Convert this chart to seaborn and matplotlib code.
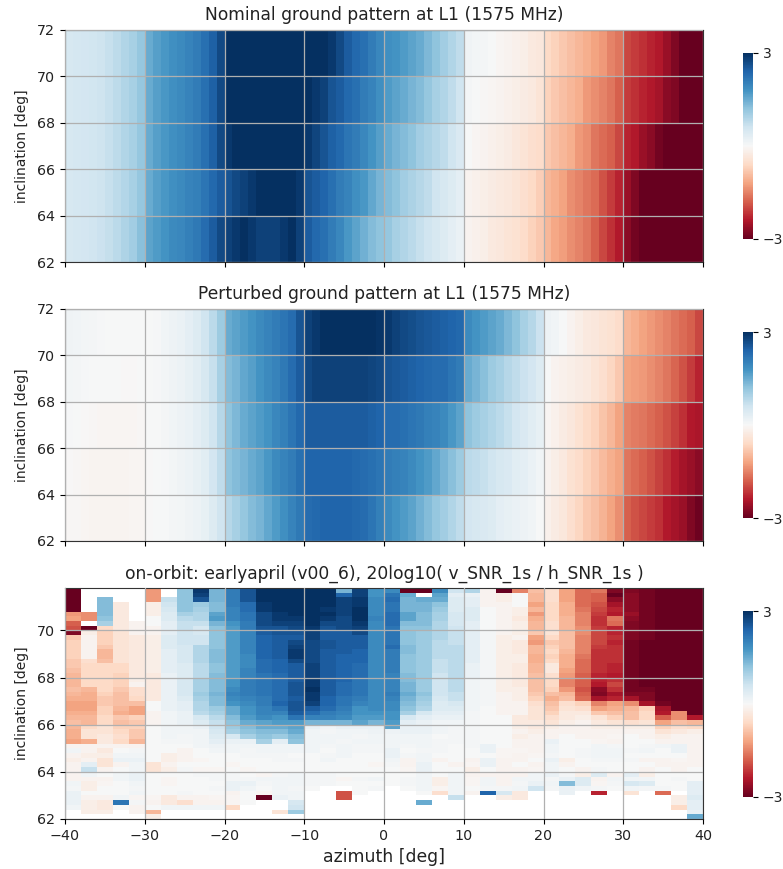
import numpy as np
import pandas as pd
import matplotlib
matplotlib.use("Agg")
import matplotlib.pyplot as plt
import seaborn as sns

n = np.nan
azimuth_fine = list(range(-40, 40))
inclination_coarse = [62, 64, 66, 68, 70]
azimuth_bins = list(range(-40, 40, 2))
inclination_bins = [round(62 + 0.2 * i, 1) for i in range(49)]
azimuth_ticks = [-40, -30, -20, -10, 0, 10, 20, 30, 40]
inclination_ticks = [62, 64, 66, 68, 70, 72]
inclination_ticks_orbit = [62, 64, 66, 68, 70]

nominal_62 = [.5,.52,.55,.6,.65,.72,.8,.92,1.05,1.25, 1.6,1.7,1.8,1.9,1.95,2.05,2.15,2.3,2.5,2.7,
 2.8,2.9,3,2.9,2.8,2.8,2.8,2.9,3,2.8, 2.5,2.35,2.25,2.1,1.95,1.75,1.6,1.45,1.3,1.2,
 1.15,1,.9,.8,.7,.6,.5,.4,.3,.2, -.1,-.15,-.2,-.3,-.35,-.4,-.45,-.55,-.7,-.8,
 -1,-1.15,-1.25,-1.4,-1.5,-1.6,-1.8,-2,-2.2,-2.4, -2.7,-2.9,-3,-3,-3,-3,-3,-3,-3,-3]
nominal_64 = [.5,.52,.55,.58,.62,.7,.78,.88,1,1.15, 1.5,1.65,1.75,1.85,1.9,2,2.05,2.2,2.35,2.5,
 2.6,2.7,2.8,2.9,3,3,3,3,3,2.9, 2.6,2.5,2.4,2.25,2.1,2,1.85,1.75,1.55,1.4,
 1.3,1.2,1.05,.95,.85,.75,.6,.5,.4,.3, -.1,-.15,-.2,-.25,-.3,-.35,-.4,-.5,-.6,-.75,
 -1,-1.1,-1.2,-1.4,-1.5,-1.6,-1.7,-1.9,-2.1,-2.3, -2.6,-2.8,-3,-3,-3,-3,-3,-3,-3,-3]
nominal_66 = [.5,.52,.55,.58,.62,.7,.78,.9,1,1.15, 1.5,1.65,1.75,1.85,1.9,2,2.1,2.25,2.45,2.7,
 2.9,3,3,3,3,3,3,3,3,3, 2.9,2.75,2.6,2.45,2.35,2.2,2.1,1.95,1.8,1.65,
 1.5,1.4,1.3,1.2,1.05,.95,.85,.75,.6,.45, 0,-.05,-.1,-.15,-.2,-.25,-.35,-.4,-.5,-.55,
 -.8,-.9,-1,-1.1,-1.3,-1.4,-1.6,-1.7,-1.8,-2, -2.3,-2.4,-2.6,-2.7,-2.9,-3,-3,-3,-3,-3]
nominal_68 = [.5,.52,.55,.58,.62,.7,.78,.9,1,1.15, 1.5,1.65,1.75,1.85,1.9,2,2.1,2.25,2.45,2.7,
 3,3,3,3,3,3,3,3,3,3, 3,2.9,2.8,2.6,2.5,2.35,2.25,2.1,2,1.85,
 1.7,1.6,1.5,1.4,1.3,1.15,1,.9,.75,.6, .05,0,-.03,-.05,-.1,-.15,-.2,-.25,-.3,-.4,
 -.7,-.8,-.9,-1,-1.1,-1.3,-1.4,-1.5,-1.6,-1.8, -2.1,-2.2,-2.3,-2.4,-2.5,-2.7,-2.8,-3,-3,-3]
nominal_70 = [.5,.52,.55,.58,.62,.7,.78,.9,1,1.15, 1.5,1.65,1.75,1.85,1.9,2,2.1,2.25,2.45,2.7,
 3,3,3,3,3,3,3,3,3,3, 3,3,3,2.9,2.7,2.5,2.35,2.25,2.1,1.95,
 1.85,1.8,1.7,1.6,1.5,1.35,1.2,1.05,.9,.75, .12,.08,.05,0,-.05,-.1,-.15,-.2,-.3,-.35,
 -.6,-.7,-.8,-.9,-1,-1.1,-1.2,-1.3,-1.5,-1.6, -2,-2.1,-2.2,-2.3,-2.4,-2.6,-2.8,-3,-3,-3]

perturbed_62 = [-.03,-.04,-.06,-.08,-.09,-.09,-.09,-.08,-.07,-.05, -.02,0,.02,.05,.08,.12,.18,.25,.4,.6,
 .85,1,1.15,1.3,1.4,1.55,1.7,1.85,2,2.15, 2.3,2.35,2.4,2.4,2.4,2.4,2.35,2.3,2.2,2.05,
 1.9,1.8,1.7,1.6,1.45,1.3,1.15,1.05,.9,.75, .55,.5,.45,.4,.3,.25,.2,.15,.1,0,
 -.15,-.25,-.35,-.5,-.65,-.8,-.9,-1.05,-1.2,-1.4, -1.8,-1.9,-2,-2.1,-2.2,-2.4,-2.5,-2.6,-2.8,-2.95]
perturbed_64 = [-.02,-.04,-.06,-.08,-.09,-.09,-.09,-.08,-.07,-.05, -.02,0,.03,.08,.12,.18,.25,.35,.55,.75,
 1.2,1.3,1.4,1.5,1.6,1.75,1.9,2,2.1,2.25, 2.4,2.4,2.4,2.4,2.4,2.4,2.35,2.3,2.25,2.2,
 2.1,2.05,2,1.9,1.8,1.7,1.55,1.4,1.25,1.1, .8,.75,.7,.6,.5,.45,.35,.3,.2,.1,
 -.1,-.2,-.3,-.45,-.55,-.7,-.8,-.95,-1.1,-1.2, -1.6,-1.7,-1.8,-1.9,-2.05,-2.2,-2.35,-2.5,-2.6,-2.7]
perturbed_66 = [.03,.01,-.02,-.04,-.06,-.06,-.06,-.05,-.05,-.03, 0,.02,.05,.1,.15,.2,.3,.4,.6,.85,
 1.2,1.35,1.5,1.6,1.7,1.8,1.95,2.05,2.2,2.35, 2.5,2.5,2.5,2.5,2.5,2.5,2.5,2.5,2.45,2.4,
 2.3,2.3,2.25,2.2,2.15,2.05,2,1.9,1.75,1.6, 1.2,1.1,1,.9,.8,.7,.55,.45,.35,.25,
 -.05,-.15,-.25,-.35,-.45,-.6,-.7,-.85,-1,-1.2, -1.5,-1.55,-1.6,-1.7,-1.8,-1.9,-2.05,-2.2,-2.4,-2.45]
perturbed_68 = [.08,.06,.04,.02,0,0,0,-.01,-.01,0, .02,.04,.08,.12,.18,.25,.35,.5,.7,1,
 1.3,1.4,1.55,1.65,1.8,1.9,2,2.15,2.3,2.5, 2.7,2.8,2.8,2.8,2.8,2.8,2.8,2.8,2.75,2.7,
 2.6,2.55,2.5,2.45,2.4,2.35,2.3,2.3,2.2,2.1, 1.5,1.4,1.25,1.1,1,.85,.75,.65,.55,.4,
 0,-.1,-.15,-.2,-.25,-.3,-.4,-.5,-.65,-.8, -1.2,-1.25,-1.3,-1.4,-1.5,-1.6,-1.75,-1.9,-2.1,-2.3]
perturbed_70 = [.12,.1,.08,.05,.03,.02,.02,.01,.01,.01, .02,.04,.1,.15,.2,.3,.4,.6,.8,1.1,
 1.5,1.6,1.7,1.8,1.9,2,2.1,2.2,2.3,2.6, 2.8,2.9,3,3,3,3,3,3,3,2.95,
 2.9,2.8,2.7,2.65,2.6,2.55,2.5,2.45,2.4,2.35, 1.9,1.8,1.7,1.6,1.5,1.35,1.2,1,.85,.65,
 .15,.1,0,-.1,-.2,-.3,-.35,-.4,-.45,-.55, -1,-1.1,-1.2,-1.3,-1.4,-1.5,-1.6,-1.7,-1.8,-2]

# on-orbit cells, 62.0 upward in 0.2 deg rows, 40 azimuth bins
orbit_rows = [
[n,n,n,n,n,-.2,n,n,n,n, n,n,n,n,n,n,n,n,n,n, n,n,n,n,n,n,n,n,n,n, n,n,n,n,n,n,n,n,n,1.5],
[n,-.2,-.2,n,-.1,-1,n,n,n,n, n,n,n,-.4,1.1,n,n,n,n,n, n,n,n,n,n,n,n,n,n,n, n,n,n,n,n,n,n,n,n,.2],
[.1,-.2,-.3,0,-.1,0,.1,.1,.1,.1, -.6,n,n,n,.6,n,n,n,n,n, n,n,n,n,n,n,n,n,n,n, n,n,n,n,n,n,n,n,-.6,.3],
[.2,-.2,-.3,2.2,.05,-.1,-.3,-.5,-.1,-.1, -.05,0,n,n,.5,n,n,n,n,n, n,n,1.5,n,n,n,n,n,n,n, n,n,n,n,n,n,n,n,-.2,.3],
[.2,-.1,-.1,.1,-.05,-.05,-.3,-.1,-.1,-.05, -.05,0,-3,.2,.1,n,n,-1.9,n,n, n,n,n,n,.7,n,n,-.2,-.3,n, n,n,n,n,n,n,n,n,-.2,.4],
[.2,0,0,0,.1,0,0,.05,0,0, -.1,0,-.05,.1,.1,n,n,-1.9,0,n, n,n,0,-.5,.1,-.1,2.4,.5,-.3,n, n,.2,n,-2.3,n,-.4,n,-1.7,n,.3],
[.05,-.2,0,0,.05,0,0,0,0,.05, .2,.1,0,.1,.05,0,n,n,0,.05, n,0,.1,-.05,.1,0,.05,.05,.1,.6, .05,.2,.1,.05,0,.1,.05,.05,0,.3],
[.1,-.2,-.05,0,.1,0,-.05,0,0,0, .2,.2,.05,.1,.1,.05,.05,0,0,0, 0,.05,.1,-.2,.1,-.05,.1,-.1,.05,.2, .1,1.3,.4,-.05,.05,.5,.4,0,0,.3],
[-.1,-.1,-.1,.1,.2,0,-.05,0,0,.05, .05,.05,.1,.1,.1,.05,.05,-.05,.05,.1, 0,.05,.1,-.2,.1,-.05,.1,-.1,.1,.1, .05,.2,.4,-.1,.1,.1,.1,0,.05,0],
[-.1,.1,0,.1,.2,0,0,0,.05,.05, .05,0,-.05,.05,.1,.05,.05,0,0,0, 0,0,.1,0,.1,-.1,-.1,-.1,-.1,.1, .2,.05,-.2,.4,-.1,.3,-.2,0,0,0],
[-.1,.7,-.1,0,.1,-.4,-.2,.05,-.05,-.05, 0,-.05,0,0,0,0,0,0,0,0, 0,-.05,.2,0,0,-.2,0,-.1,-.1,-.05, .1,0,-.1,.05,0,0,-.1,0,-.1,0],
[-.1,.3,-.4,-.1,.1,-.4,-.1,0,0,0, -.05,0,0,0,0,0,0,0,0,-.05, .05,-.1,.2,0,-.1,-.05,.2,-.1,0,-.1, .1,-.1,0,0,0,0,0,-.1,-.1,-.1],
[-.2,-.1,-.4,.2,.2,0,-.2,-.1,-.05,0, 0,0,0,.05,.05,0,.1,0,0,0, .1,-.1,.1,-.1,0,-.1,.2,-.1,-.1,0, .2,-.2,0,.05,.05,.05,-.1,-.1,-.05,-.1],
[-.1,-.2,-.2,.1,.1,0,-.2,-.1,0,0, 0,.05,.05,.05,0,0,.05,.1,0,0, .2,.05,.1,0,0,0,0,-.05,-.1,-.05, .05,0,.05,.1,.1,0,0,0,0,-.1],
[.1,-.1,-.3,0,.05,0,0,-.1,0,.1, .1,.05,.1,.1,.1,.1,0,.1,.05,.05, .2,0,.05,.05,0,0,.2,-.05,-.05,-.1, .1,0,.05,.1,.1,.05,.1,0,.2,-.1],
[-.1,-.1,-.1,-.1,-.1,0,0,0,.1,.15, .1,.1,.1,.1,.1,.1,.05,.1,.05,.05, .1,.05,.1,.05,0,.05,.2,0,-.1,-.1, .1,0,0,.1,.05,0,.05,.1,.2,-.1],
[-1.2,-1.1,-.3,-.6,-1,0,.05,.05,.1,.3, .2,.2,1,.3,1.2,.1,.1,.05,.1,.1, .1,.1,.1,.05,.05,.05,0,0,-.1,-.1, .2,0,0,-.05,-.1,0,0,-.1,-.1,-.1],
[-1.1,-.4,-.3,-.5,-.8,0,.1,.05,.1,.4, .5,1,1.2,1.1,1.3,.1,.1,.1,.05,.1, .1,.1,.1,0,.05,.05,0,0,-.2,-.1, -.1,0,-.1,-.1,-.05,0,-.1,-.2,-.1,-.1],
[-1.1,-.4,-.4,-.6,-.8,0,.1,.1,.1,.5, 1,1.2,1.3,1.3,1.5,.1,.05,.1,.1,.15, .15,.2,.2,.1,.05,.05,0,0,-.1,-.2, -.1,-.1,-.1,-.1,-.1,-.1,-.1,-.4,-.3,-.2],
[-1,-.6,-.4,-.7,-.7,0,.1,.1,.2,.6, 1.1,1.3,1.5,1.5,1.6,.2,.1,.2,.2,.2, 1.6,.2,.2,.1,.05,.05,0,0,-.2,-.3, -.2,-.1,-.1,-.2,-.2,-.2,-.2,-.7,-.5,-.6],
[-.9,-1,-.6,-.9,-.8,-.1,.1,.2,.4,.7, 1.2,1.5,1.6,1.7,1.7,1.4,1.4,1.4,1.6,1.4, 1.7,.3,.2,.1,.1,.05,0,0,-.3,-.3, -.4,-.2,-.1,-.3,-.4,-.5,-.4,-1.2,-.9,-1],
[-1,-1,-.6,-.8,-.7,-.1,.1,.2,.5,.8, 1.3,1.7,1.9,1.8,2.2,2,2,1.9,1.7,1.7, 1.8,.5,.3,.2,.2,.05,0,0,-.3,-.4, -.5,-.3,-.2,-.4,-.7,-.9,-.6,-1.8,-1.4,-2.4],
[-1.1,-1.1,-.7,-1.1,-1.2,-.1,.1,.2,.8,1, 1.5,1.8,2,2,2.5,2.3,2.1,2,1.8,1.8, 1.8,1,.5,.3,.3,.05,0,-.1,-.1,-.4, -.7,-.3,-.3,-.8,-.9,-.9,-.6,-2.4,-1.4,-3],
[-1.2,-1.2,-.7,-1,-1.2,0,.2,.3,.9,1.1, 1.5,1.8,2,2.2,2.6,2.5,2.3,2.1,1.8,1.9, 1.9,1.2,.9,.4,.4,.1,0,-.1,-.1,-.4, -.8,-.4,-.5,-1.2,-1.1,-1,-.7,-2.5,-3,-3],
[-1.2,-1.2,-.8,-.9,-.9,0,.2,.3,.9,1.3, 1.8,1.9,2.1,2.4,2.6,2.8,2.4,2.2,2,1.9, 1.9,1.3,1,.4,.5,.1,.05,-.1,-.1,-.5, -.9,-.5,-.7,-1.5,-1.2,-1.4,-2.5,-2.9,-3,-3],
[-1.1,-1.1,-.8,-.9,-.6,-.3,.2,.4,1,1.3, 1.9,2,2.1,2.3,2.5,2.9,2.4,2.2,2.1,1.9, 2,1.4,1.1,.5,.7,.1,.05,-.1,-.2,-.7, -1.1,-.9,-1.7,-2.5,-2.3,-2.5,-2.8,-3,-3,-3],
[-1,-1.1,-.7,-.9,-.5,-.3,.2,.5,1.1,1.4, 2,2.1,2.2,2.3,2.6,2.9,2.5,2.3,2.2,1.9, 2.1,1.5,1.2,.6,.7,.1,.05,-.1,-.2,-.8, -.9,-1,-1.8,-2.8,-2.5,-2.8,-2.8,-3,-3,-3],
[-.9,-1,-.6,-.8,-.5,-.3,.2,.5,1,1.3, 1.9,2.1,2.2,2.3,2.6,3,2.5,2.3,2.2,1.9, 2,1.4,1.1,.6,.8,.1,.05,-.2,-.2,-.9, -.7,-1.3,-1.9,-2.7,-2.2,-2.9,-2.9,-3,-3,-3],
[-1,-.6,-.6,-.7,-.1,-.3,.2,.5,1,1.3, 1.8,2.1,2.2,2.3,2.6,2.9,2.5,2.3,2.2,1.9, 2,1.4,1.1,.6,.8,.1,.05,-.2,-.3,-.9, -.6,-1.5,-1.8,-2.4,-2,-2.9,-3,-3,-3,-3],
[-1,-.6,-.6,-.7,-.2,-.3,.2,.5,1,1.3, 1.8,2.1,2.2,2.3,2.5,2.9,2.5,2.4,2.2,1.9, 2,1.3,1.1,.6,.8,.1,.05,-.2,-.3,-.9, -.6,-1.5,-1.8,-2.3,-2.2,-2.9,-3,-3,-3,-3],
[-1,-.6,-.6,-.7,-.3,-.3,.2,.4,.8,1.3, 1.7,2,2.2,2.3,2.5,2.8,2.5,2.4,2.3,1.9, 2,1.3,1.1,.6,.8,.2,.05,-.2,-.3,-.9, -.5,-1.3,-1.8,-2.3,-2.4,-2.9,-3,-3,-3,-3],
[-.9,-.6,-.6,-.6,-.3,-.2,.3,.4,.8,1.2, 1.7,2,2.3,2.4,2.5,2.8,2.5,2.4,2.3,1.9, 2.1,1.2,1.1,.7,.8,.2,.05,-.2,-.3,-1, -.3,-1.2,-1.7,-2.2,-2.3,-2.9,-3,-3,-3,-3],
[-.8,-.6,-.6,-.6,-.3,-.2,.3,.4,.8,1.2, 1.7,1.9,2.3,2.4,2.5,2.8,2.5,2.4,2.3,1.9, 2.1,1.2,1.1,.7,.8,.2,.05,-.2,-.3,-1, -.3,-1.1,-1.7,-2.2,-2.3,-2.9,-3,-3,-3,-3],
[-.8,-.5,-.9,-.4,-.3,-.2,.3,.5,.9,1.3, 1.7,1.9,2.3,2.4,2.7,2.7,2.5,2.4,2.4,1.9, 2.1,1.2,1.1,.7,.8,.3,.05,-.2,-.2,-1.1, -.6,-1.1,-1.7,-2.2,-2.2,-2.9,-3,-3,-3,-3],
[-.7,-.1,-1,-.4,-.3,-.2,.3,.5,.9,1.3, 1.7,1.9,2.4,2.5,2.9,2.7,2.5,2.4,2.4,1.9, 2.1,1.2,1.1,.8,.8,.3,.05,-.2,-.2,-1.1, -.7,-1.1,-1.6,-2.2,-2.2,-2.9,-3,-3,-3,-3],
[-.7,-.1,-1,-.4,-.3,-.2,.3,.5,.9,1.3, 1.7,2,2.4,2.5,2.9,2.7,2.5,2.5,2.4,1.9, 2.1,1.3,1.1,.8,.8,.3,.05,-.2,-.3,-1, -.6,-1,-1.5,-2.2,-2.2,-2.9,-3,-3,-3,-3],
[-.7,-.1,-.8,-.4,-.3,-.2,.4,.5,.9,1.2, 1.7,2,2.4,2.5,2.8,2.7,2.6,2.5,2.5,1.9, 2.3,1.3,1.1,.8,.8,.3,.05,-.2,-.3,-1, -.7,-.9,-1.5,-2.1,-2.2,-2.9,-3,-3,-3,-3],
[-.7,-.1,-.7,-.4,-.3,-.2,.4,.6,.6,1.2, 1.7,2,2.4,2.5,2.7,2.7,2.6,2.5,2.5,1.9, 2.2,1.2,1.1,.8,.7,.3,.05,-.2,-.3,-1.3, -.8,-.9,-1.5,-2,-2.3,-2.9,-3,-3,-3,-3],
[-.8,-.1,-.7,-.4,-.3,-.2,.4,.6,.6,1.2, 1.7,2,2.4,2.5,2.5,2.8,2.5,2.5,2.5,1.9, 2.2,1.2,1.1,.9,.7,.3,.05,-.2,-.1,-1.2, -.6,-.9,-1.5,-2,-2.2,-2.8,-2.9,-3,-3,-3],
[-2.8,-.2,-.7,-.4,-.1,-.1,.3,.6,.5,1.2, 1.7,2,2.5,2.6,2.6,2.8,2.5,2.5,2.7,1.9, 2.2,1.2,1.1,.9,.7,.3,.05,-.1,-.2,-.8, -.4,-.9,-1.4,-2,-2.3,-2.8,-2.9,-3,-3,-3],
[-1.9,-3,-.6,-.3,-.1,-.1,.3,.7,.5,1.2, 1.7,2.1,2.6,2.6,2.7,2.9,2.6,2.7,2.8,1.9, 2.2,1.2,1.2,.9,.6,.3,0,-.1,-.2,-1, -.5,-1,-1.4,-2.1,-2.3,-2.8,-2.9,-3,-3,-3],
[-1.8,n,1,-.3,-.1,0,.3,.7,.7,1.4, 1.8,2.1,2.7,2.8,2.8,3,2.7,2.7,2.9,1.9, 2.3,1.3,1.3,.9,.5,.3,0,-.1,-.2,-1, -.5,-1,-1.5,-2.2,-1.7,-2.8,-2.9,-3,-3,-3],
[-1.2,-1.4,1.2,-.3,n,0,.4,.8,.9,1.7, 2,2.2,2.7,2.9,2.9,3,2.9,2.7,3,2, 2.3,1.6,1.3,1,.5,.4,0,-.1,-.3,-1.1, -.6,-1,-1.5,-2.2,-1.6,-2.7,-2.9,-3,-3,-3],
[-1.3,-1.4,1.3,-.3,n,-.2,.4,1,.9,1.6, 2,2.2,2.7,2.9,3,3,3,2.8,3,1.9, 2.3,1.6,1.3,1,.5,.4,0,-.1,-.2,-1.3, -.6,-1.1,-1.5,-2.1,-2.4,-2.6,-2.9,-3,-3,-3],
[-3,n,1.3,-.3,n,-.2,.5,1.2,1,1.3, 2,2.3,2.9,3,3,3,2.9,2.8,3,1.9, 2.2,1.4,1.4,1.1,.4,.4,0,-.1,-.2,-1, -.6,-1.1,-1.6,-2,-2.3,-2.7,-2.9,-3,-3,-3],
[-3,n,1.3,-.3,n,-.2,.6,1.2,1.1,1.3, 2.1,2.3,2.9,3,3,3,3,2.8,2.9,1.9, 2.2,1.4,1.4,1.2,.4,.3,-.1,-.1,0,-1.2, -.6,-1.1,-1.7,-1.9,-2.5,-2.7,-2.9,-3,-3,-3],
[-3,n,1.3,n,n,-1.3,.7,1.2,2.6,1.4, 2.1,2.6,3,3,3,3,3,2.8,2.9,1.9, 2.3,1.4,1.5,1.5,.4,.3,-.1,-.2,0,-1, -.5,-1.2,-1.7,-1.8,-2.7,-2.7,-2.9,-3,-3,-3],
[-3,n,n,n,n,-1.3,n,1.2,2.8,1.4, 2.1,2.6,3,3,3,3,3,2.4,2.8,1.8, 2.2,1.5,n,1.6,.3,.2,-.1,-.2,0,-1, -.5,-1.2,-1.7,-1.8,-3,-2.7,-2.9,-3,-3,-3],
[-3,n,n,n,n,-1.3,n,1.2,2.9,1.4, 2.1,2.6,3,3,3,3,3,1.4,2.8,1.8, 1.9,-3,-3,1.9,.6,.9,-.1,-3,-1.5,-.9, -.5,-1.2,-1.7,-1.6,-2.8,-2.8,-2.9,-3,-3,-3],
]

nominal = pd.DataFrame([nominal_62, nominal_64, nominal_66, nominal_68, nominal_70],
                       index=inclination_coarse, columns=azimuth_fine)
perturbed = pd.DataFrame([perturbed_62, perturbed_64, perturbed_66, perturbed_68, perturbed_70],
                         index=inclination_coarse, columns=azimuth_fine)
orbit = pd.DataFrame(orbit_rows, index=inclination_bins, columns=azimuth_bins)

W, H = 783, 869
fig = plt.figure(figsize=(W / 100, H / 100), dpi=100)
panels = [
    (nominal, "Nominal ground pattern at L1 (1575 MHz)", 30, 262, 53, 239, 72, inclination_ticks, False),
    (perturbed, "Perturbed ground pattern at L1 (1575 MHz)", 309, 541, 332, 518, 72, inclination_ticks, False),
    (orbit, "on-orbit: earlyapril (v00_6), 20log10( v_SNR_1s / h_SNR_1s )", 588, 819, 611, 797, 71.8, inclination_ticks_orbit, True),
]
for data, title, top, bottom, ctop, cbot, ymax, yticks, last in panels:
    ax = fig.add_axes([65 / W, 1 - bottom / H, 638 / W, (bottom - top) / H])
    cax = fig.add_axes([743 / W, 1 - cbot / H, 10 / W, (cbot - ctop) / H])
    sns.heatmap(data, ax=ax, cbar_ax=cax, cmap="RdBu", vmin=-3, vmax=3,
                xticklabels=False, yticklabels=False,
                cbar_kws={"ticks": [-3, 3]}, rasterized=True)
    nx, ny = data.shape[1], data.shape[0]
    ax.set_xlim(0, nx)
    ax.set_ylim(0, ny)
    to_x = lambda v: (v + 40) / 80 * nx
    to_y = lambda v: (v - 62) / (ymax - 62) * ny
    ax.set_xticks([to_x(v) for v in azimuth_ticks])
    ax.set_yticks([to_y(v) for v in yticks])
    ax.set_yticklabels([str(v) for v in yticks], rotation=0, fontsize=10.3, color="#222222")
    if last:
        ax.set_xticklabels([str(v).replace("-", "\u2212") for v in azimuth_ticks],
                           rotation=0, fontsize=10.3, color="#222222")
        ax.set_xlabel("azimuth [deg]", fontsize=12.4, color="#222222")
    else:
        ax.set_xticklabels([])
        ax.set_xlabel("")
    ax.set_ylabel("inclination [deg]", fontsize=10, color="#222222", labelpad=6)
    ax.set_title(title, fontsize=12.35, pad=7, color="#222222")
    ax.grid(True, color="#b0b0b0", linewidth=0.9)
    ax.set_axisbelow(False)
    ax.tick_params(length=3.5, width=0.8, bottom=True, left=True)
    for s in ax.spines.values():
        s.set_visible(True)
        s.set_linewidth(0.8)
        s.set_color("#333333")
    cax.tick_params(length=3.5, width=0.8, labelsize=10, labelcolor="#222222")
    cax.set_yticklabels(["\u22123", "3"])
    for s in cax.spines.values():
        s.set_visible(False)
    cb = cax.collections[0].colorbar if cax.collections and hasattr(cax.collections[0], "colorbar") else None
    if cb is not None:
        cb.outline.set_visible(True)
        cb.outline.set_linewidth(0.8)

fig.savefig("out.png", dpi=100)
